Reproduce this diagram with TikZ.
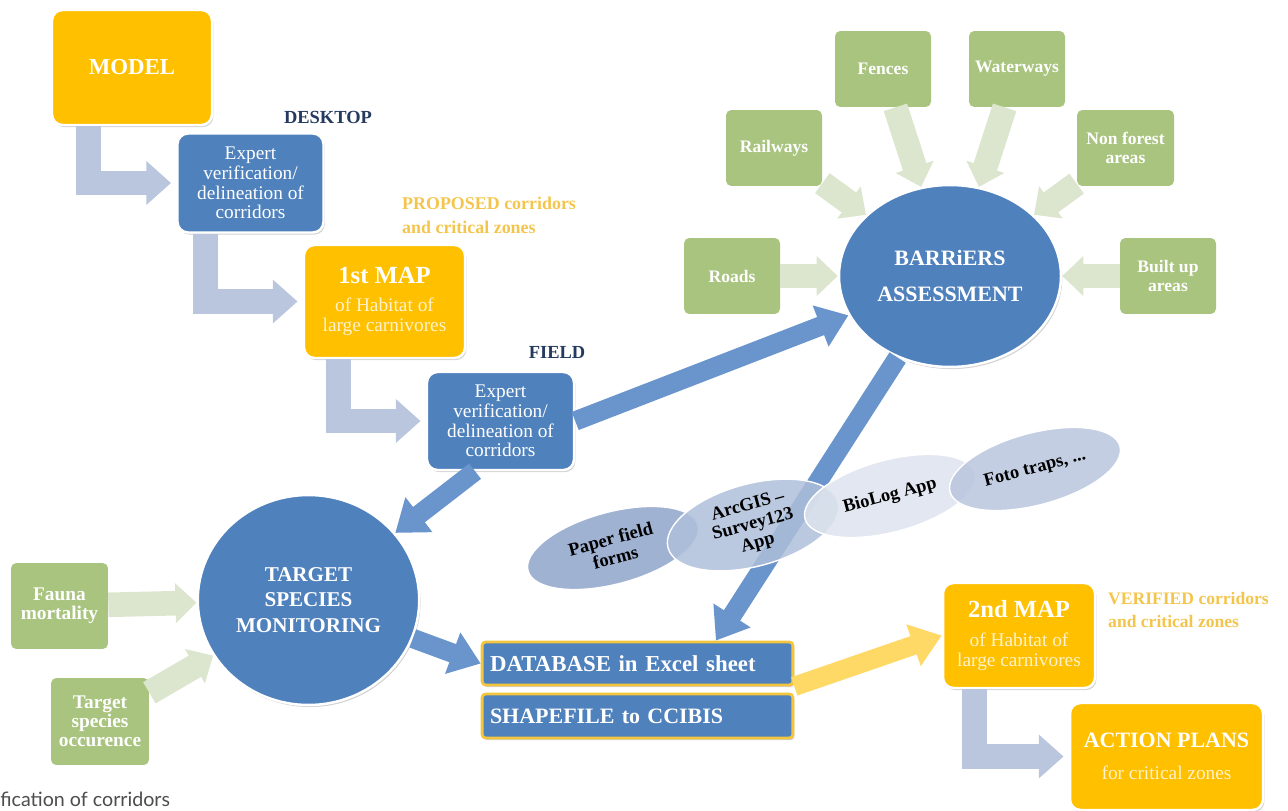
\documentclass[tikz,border=0pt]{standalone}
\usepackage{fontspec}
\setmainfont{Liberation Serif}
\newfontfamily\capfont{Lato}
\usetikzlibrary{arrows.meta,shapes.geometric,shadows,calc}
\definecolor{mapyellow}{HTML}{FFC000}
\definecolor{boxblue}{HTML}{4F81BD}
\definecolor{elbowgray}{HTML}{B9C6DE}
\definecolor{flowblue}{HTML}{6A94CC}
\definecolor{barrgreen}{HTML}{A9C47F}
\definecolor{palegreen}{HTML}{DCE6CE}
\definecolor{labelnavy}{HTML}{243A5E}
\definecolor{labelgold}{HTML}{F4C54C}
\definecolor{cream}{HTML}{FFF2CC}
\definecolor{goldedge}{HTML}{F2C53D}
\definecolor{paleyellow}{HTML}{FFD966}
\definecolor{paperblue}{HTML}{8EA4CA}
\definecolor{arcblue}{HTML}{AEBFDA}
\definecolor{biologblue}{HTML}{DDE3EE}
\definecolor{fotoblue}{HTML}{B9C6DE}
\definecolor{captiongray}{HTML}{4D4D4D}

\begin{document}
\begin{tikzpicture}[x=0.02cm,y=-0.02cm,
	mapbox/.style={rectangle,rounded corners=6pt,fill=mapyellow,draw=white,line width=1.4pt,text=white,align=center,drop shadow={shadow xshift=0.8pt,shadow yshift=-1.2pt,opacity=0.35}},
	expertbox/.style={mapbox,fill=boxblue,font=\fontsize{11}{11.2}\selectfont,minimum width=2.92cm,minimum height=1.98cm},
	barrier/.style={rectangle,rounded corners=3pt,fill=barrgreen,text=white,align=center,font=\bfseries\fontsize{10}{10.8}\selectfont,minimum width=1.92cm,minimum height=1.52cm},
	hub/.style={ellipse,fill=boxblue,draw=white,line width=1.4pt,text=white,align=center,drop shadow={shadow xshift=0.8pt,shadow yshift=-1.2pt,opacity=0.35}},
	tool/.style={ellipse,draw=white,line width=0.8pt,fill opacity=0.85,text opacity=1,rotate=15,minimum width=3.52cm,minimum height=1.44cm,inner sep=1pt,align=center,font=\bfseries\fontsize{10.5}{11}\selectfont},
	dbbox/.style={rectangle,rounded corners=2pt,fill=boxblue,draw=goldedge,line width=1.6pt,text=white,text width=5.9cm,align=left,inner xsep=4.5pt,minimum height=0.86cm,font=\bfseries\fontsize{13}{14}\selectfont,drop shadow={shadow xshift=0.8pt,shadow yshift=-1.2pt,opacity=0.35}},
	elbow/.style={draw=elbowgray,line width=14pt,line join=miter,-{Triangle[length=14pt,width=24pt]},shorten >=3pt},
	flow/.style={draw=flowblue,line width=11pt,-{Triangle[length=17pt,width=24pt]}},
	feed/.style={draw=palegreen,line width=14pt,-{Triangle[length=12pt,width=22pt]}},
	steplabel/.style={text=labelnavy,font=\bfseries\fontsize{10.5}{12}\selectfont},
	statelabel/.style={text=labelgold,anchor=west,align=left,font=\bfseries\fontsize{10.2}{13.6}\selectfont}]
	\useasboundingbox (0,0) rectangle (1288,811);

	\node[mapbox,minimum width=3.2cm,minimum height=2.3cm,font=\bfseries\fontsize{13}{15}\selectfont] (model) at (132,67.5) {MODEL};
	\node[expertbox] (exp1) at (250.5,183) {Expert\\verification/\\delineation of\\corridors};
	\node[mapbox,minimum width=3.22cm,minimum height=2.26cm,font=\fontsize{11}{11.3}\selectfont] (map1) at (384.5,301.5) {{\bfseries\fontsize{14}{16}\selectfont 1st MAP}\\[5pt]{\color{cream}of Habitat of}\\{\color{cream}large carnivores}};
	\node[expertbox,minimum width=2.94cm,minimum height=1.96cm] (exp2) at (500.5,421) {Expert\\verification/\\delineation of\\corridors};

	\node[steplabel] (desktop) at (328,117) {DESKTOP};
	\node[steplabel] (field) at (557,352) {FIELD};
	\node[statelabel] (proposed) at (396,215) {PROPOSED corridors\\and critical zones};

	\node[hub,minimum width=4.16cm,minimum height=3.64cm,font=\bfseries\fontsize{12.5}{20}\selectfont] (barr) at (950,276) {BARRiERS\\ASSESSMENT};
	\node[barrier] (fences) at (883,69) {Fences};
	\node[barrier] (waterways) at (1017,69) {Waterways};
	\node[barrier] (railways) at (774,148) {Railways};
	\node[barrier,minimum width=1.94cm] (nonforest) at (1125.5,148) {Non forest\\areas};
	\node[barrier] (roads) at (732,276) {Roads};
	\node[barrier] (builtup) at (1168,276) {Built up\\areas};

	\node[hub,minimum width=4.18cm,minimum height=4.2cm,font=\bfseries\fontsize{12}{14.5}\selectfont] (tsm) at (308.5,600) {TARGET\\SPECIES\\MONITORING};
	\node[barrier,minimum width=1.94cm,minimum height=1.72cm,font=\bfseries\fontsize{11}{10.8}\selectfont] (fauna) at (59.5,606) {Fauna\\mortality};
	\node[barrier,minimum width=1.96cm,minimum height=1.74cm,font=\bfseries\fontsize{11}{10.8}\selectfont] (tocc) at (100,721.5) {Target\\species\\occurence};

	\node[dbbox] (db) at (637.5,663.5) {DATABASE in Excel sheet};
	\node[dbbox,minimum height=0.88cm,font=\bfseries\fontsize{12.5}{14}\selectfont] (shp) at (637.5,716) {SHAPEFILE to CCIBIS};

	\node[mapbox,minimum width=3.04cm,minimum height=2.1cm,font=\fontsize{11}{11.3}\selectfont] (map2) at (1019,635.5) {{\bfseries\fontsize{14}{16}\selectfont 2nd MAP}\\[5pt]{\color{cream}of Habitat of}\\{\color{cream}large carnivores}};
	\node[statelabel,font=\bfseries\fontsize{10}{13.6}\selectfont] (verified) at (1102,610) {VERIFIED corridors\\and critical zones};
	\node[mapbox,minimum width=3.86cm,minimum height=2.14cm,font=\fontsize{11}{11.3}\selectfont] (action) at (1166.5,756.5) {{\bfseries\fontsize{12.5}{14}\selectfont ACTION PLANS}\\[7pt]{\color{cream}for critical zones}};

	\draw[elbow] (model.south west) ++(38,0) |- (exp1.west);
	\draw[elbow] (exp1.south west) ++(29,0) |- (map1.west);
	\draw[elbow] (map1.south west) ++(36,0) |- (exp2.west);
	\draw[elbow] (map2.south west) ++(33,0) |- (action.west);

	\draw[feed] (roads) -- (barr);
	\draw[feed] (builtup) -- (barr);
	\draw[feed] (railways) -- (barr);
	\draw[feed] (fences) -- (barr);
	\draw[feed] (waterways) -- (barr);
	\draw[feed] (nonforest) -- (barr);
	\draw[feed] (fauna) -- (tsm);
	\draw[feed] (tocc) -- (tsm);

	\draw[flow] (exp2.east) -- (barr);
	\draw[flow] (barr) -- ($(db.north east)!0.25!(db.north west)$);
	\draw[flow] ($(exp2.south west)!0.33!(exp2.south east)$) -- (tsm);
	\draw[flow] (tsm) -- (db.west);
	\draw[flow,draw=paleyellow] (db.south east) -- (map2.west);

	\node[tool,fill=paperblue] (paper) at (613,548) {Paper field\\forms};
	\node[tool,fill=arcblue] (arcgis) at (753,525) {ArcGIS –\\Survey123\\App};
	\node[tool,fill=biologblue] (biolog) at (890,496) {BioLog App};
	\node[tool,fill=fotoblue] (foto) at (1035,469) {Foto traps, ...};

	\node[anchor=base west,text=captiongray,font=\capfont\fontsize{11.2}{12}\selectfont,inner sep=0pt] (caption) at (0,806) {fication of corridors};
\end{tikzpicture}
\end{document}
